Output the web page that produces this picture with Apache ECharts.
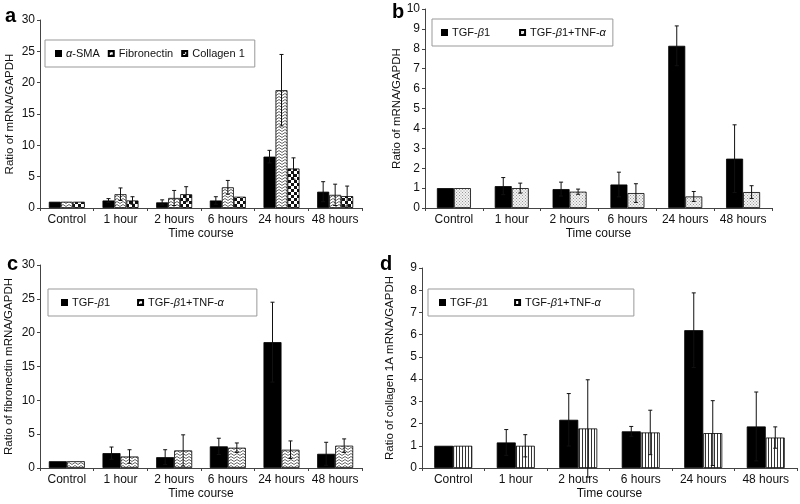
<!DOCTYPE html>
<html>
<head>
<meta charset="utf-8">
<script src="https://cdn.jsdelivr.net/npm/echarts@6/dist/echarts.min.js"></script>
<style>
  html, body { margin: 0; padding: 0; background: #fff; }
  #chart { width: 800px; height: 504px; }
</style>
</head>
<body>
<div id="chart"></div>
<script>
// categories shared by all four panels
var categories = ['Control', '1 hour', '2 hours', '6 hours', '24 hours', '48 hours'];

// panel a
var aSMA = [1.0, 1.2, 0.9, 1.2, 8.2, 2.6];
var aSMAErr = [0, 0.3, 0.4, 0.6, 1.0, 1.6];
var aFibro = [1.0, 2.2, 1.6, 3.3, 18.8, 2.1];
var aFibroErr = [0, 1.0, 1.2, 1.1, 5.7, 1.7];
var aColl = [1.0, 1.2, 2.2, 1.8, 6.3, 1.9];
var aCollErr = [0, 0.6, 1.2, 0, 1.7, 1.6];

// panel b
var bTgf = [1.0, 1.1, 0.95, 1.18, 8.15, 2.48];
var bTgfErr = [0, 0.43, 0.35, 0.62, 1.0, 1.7];
var bTnf = [1.0, 1.0, 0.82, 0.75, 0.58, 0.8];
var bTnfErr = [0, 0.25, 0.13, 0.47, 0.25, 0.32];

// panel c
var cTgf = [1.0, 2.2, 1.6, 3.2, 18.6, 2.1];
var cTgfErr = [0, 0.9, 1.1, 1.2, 5.9, 1.7];
var cTnf = [1.0, 1.7, 2.6, 3.0, 2.7, 3.3];
var cTnfErr = [0, 1.0, 2.3, 0.7, 1.3, 1.0];

// panel d
var dTgf = [1.0, 1.15, 2.17, 1.65, 6.2, 1.87];
var dTgfErr = [0, 0.58, 1.18, 0.22, 1.68, 1.55];
var dTnf = [1.0, 1.0, 1.78, 1.6, 1.57, 1.37];
var dTnfErr = [0, 0.5, 2.19, 1.0, 1.46, 0.48];

var FONT = 'Liberation Sans';

function makePattern(kind) {
  var c = document.createElement('canvas');
  var ctx;
  if (kind === 'zigzag') {
    c.width = 6; c.height = 3;
    ctx = c.getContext('2d');
    ctx.fillStyle = '#fff'; ctx.fillRect(0, 0, 6, 3);
    ctx.strokeStyle = '#666'; ctx.lineWidth = 1;
    ctx.beginPath(); ctx.moveTo(0, 2.5); ctx.lineTo(3, 0.5); ctx.lineTo(6, 2.5); ctx.stroke();
  } else if (kind === 'checker') {
    c.width = 6; c.height = 6;
    ctx = c.getContext('2d');
    ctx.fillStyle = '#fff'; ctx.fillRect(0, 0, 6, 6);
    ctx.fillStyle = '#111';
    ctx.fillRect(0, 0, 3, 3); ctx.fillRect(3, 3, 3, 3);
  } else if (kind === 'dots') {
    c.width = 3; c.height = 3;
    ctx = c.getContext('2d');
    ctx.fillStyle = '#f2f2f2'; ctx.fillRect(0, 0, 3, 3);
    ctx.fillStyle = '#999';
    ctx.fillRect(0, 0, 1, 1); ctx.fillRect(1.5, 1.5, 1, 1);
  } else {
    c.width = 3; c.height = 2;
    ctx = c.getContext('2d');
    ctx.fillStyle = '#fff'; ctx.fillRect(0, 0, 3, 2);
    ctx.fillStyle = '#333'; ctx.fillRect(0, 0, 1, 2);
  }
  return { image: c, repeat: 'repeat' };
}

var BLACK = '#000';

function bar(name, values, fill, gi, bw) {
  return {
    name: name, type: 'bar', xAxisIndex: gi, yAxisIndex: gi,
    data: values, barWidth: bw, barGap: '0%',
    itemStyle: { color: fill, borderColor: '#000', borderWidth: 0.8 },
    emphasis: { disabled: true }
  };
}

function errBars(values, errs, gi, bw, idx, n) {
  var off = (idx - (n - 1) / 2) * bw;
  return {
    type: 'custom', xAxisIndex: gi, yAxisIndex: gi, z: 5, silent: true,
    data: values.map(function (v, i) { return [i, v, errs[i]]; }),
    encode: { x: 0, y: 1 },
    renderItem: function (params, api) {
      var e = api.value(2);
      if (!e) return null;
      var x = api.coord([api.value(0), api.value(1)])[0] + off;
      var yt = api.coord([api.value(0), api.value(1) + e])[1];
      var yb = api.coord([api.value(0), api.value(1) - e])[1];
      var st = { stroke: '#111', lineWidth: 1 };
      return {
        type: 'group',
        children: [
          { type: 'line', shape: { x1: x, y1: yt, x2: x, y2: yb }, style: st },
          { type: 'line', shape: { x1: x - 2, y1: yt, x2: x + 2, y2: yt }, style: st },
          { type: 'line', shape: { x1: x - 2, y1: yb, x2: x + 2, y2: yb }, style: st }
        ]
      };
    }
  };
}

function xAx(gi) {
  return {
    type: 'category', gridIndex: gi, data: categories,
    name: 'Time course', nameLocation: 'middle', nameGap: 20,
    nameTextStyle: { fontFamily: FONT, fontSize: 12, color: '#111' },
    axisLine: { lineStyle: { color: '#444' } },
    axisTick: { show: true, length: 3, lineStyle: { color: '#444' } },
    axisLabel: { fontFamily: FONT, fontSize: 12, color: '#111', margin: 6, interval: 0 }
  };
}

function yAx(gi, max, interval, name, gap) {
  return {
    type: 'value', gridIndex: gi, min: 0, max: max, interval: interval,
    name: name, nameLocation: 'middle', nameGap: gap,
    nameTextStyle: { fontFamily: FONT, fontSize: 11.5, color: '#111' },
    axisLine: { show: true, lineStyle: { color: '#444' } },
    axisTick: { show: true, length: 3, lineStyle: { color: '#444' } },
    axisLabel: { fontFamily: FONT, fontSize: 12, color: '#111', margin: 5 },
    splitLine: { show: false }
  };
}

// greek letters in italics, trailing spaces (used to keep series names unique) dropped
function legendText(name) {
  return name.trim().replace(/([αβ])/g, '{i|$1}');
}

function legend(names, left, top, padding, gap) {
  return {
    data: names, left: left, top: top, padding: padding, itemGap: gap,
    orient: 'horizontal', selectedMode: false,
    borderColor: '#999', borderWidth: 1, borderRadius: 0,
    itemWidth: 5, itemHeight: 5, icon: 'rect',
    formatter: legendText,
    textStyle: {
      fontFamily: FONT, fontSize: 11, color: '#111',
      rich: { i: { fontFamily: FONT, fontSize: 11, fontStyle: 'italic', color: '#111' } }
    }
  };
}

var zig = makePattern('zigzag');
var chk = makePattern('checker');
var dot = makePattern('dots');
var vst = makePattern('vstripes');

var option = {
  animation: false,
  backgroundColor: '#fff',
  grid: [
    { left: 40, top: 20, width: 322, height: 188 },
    { left: 425, top: 9, width: 347, height: 199 },
    { left: 40, top: 265, width: 322, height: 203 },
    { left: 422, top: 268, width: 375, height: 200 }
  ],
  xAxis: [xAx(0), xAx(1), xAx(2), xAx(3)],
  yAxis: [
    yAx(0, 30, 5, 'Ratio of mRNA/GAPDH', 24),
    yAx(1, 10, 1, 'Ratio of mRNA/GAPDH', 12),
    yAx(2, 30, 5, 'Ratio of fibronectin mRNA/GAPDH', 25),
    yAx(3, 9, 1, 'Ratio of collagen 1A mRNA/GAPDH', 26)
  ],
  legend: [
    legend(['α-SMA', 'Fibronectin', 'Collagen 1'], 45, 40, [8, 10, 8, 10], 8),
    legend(['TGF-β1', 'TGF-β1+TNF-α'], 432, 19, [8, 7, 8, 9], 29),
    legend(['TGF-β1 ', 'TGF-β1+TNF-α '], 48, 289, [8, 33, 8, 13], 27),
    legend(['TGF-β1  ', 'TGF-β1+TNF-α  '], 428, 289, [8, 33, 8, 11], 26)
  ],
  graphic: [
    { type: 'text', left: 5, top: 6, style: { text: 'a', font: 'bold 20px ' + FONT, fill: '#000' } },
    { type: 'text', left: 392, top: 2, style: { text: 'b', font: 'bold 20px ' + FONT, fill: '#000' } },
    { type: 'text', left: 7, top: 254, style: { text: 'c', font: 'bold 20px ' + FONT, fill: '#000' } },
    { type: 'text', left: 380, top: 254, style: { text: 'd', font: 'bold 20px ' + FONT, fill: '#000' } }
  ],
  series: [
    bar('α-SMA', aSMA, BLACK, 0, 12),
    bar('Fibronectin', aFibro, zig, 0, 12),
    bar('Collagen 1', aColl, chk, 0, 12),
    errBars(aSMA, aSMAErr, 0, 12, 0, 3),
    errBars(aFibro, aFibroErr, 0, 12, 1, 3),
    errBars(aColl, aCollErr, 0, 12, 2, 3),

    bar('TGF-β1', bTgf, BLACK, 1, 17),
    bar('TGF-β1+TNF-α', bTnf, dot, 1, 17),
    errBars(bTgf, bTgfErr, 1, 17, 0, 2),
    errBars(bTnf, bTnfErr, 1, 17, 1, 2),

    bar('TGF-β1 ', cTgf, BLACK, 2, 18),
    bar('TGF-β1+TNF-α ', cTnf, zig, 2, 18),
    errBars(cTgf, cTgfErr, 2, 18, 0, 2),
    errBars(cTnf, cTnfErr, 2, 18, 1, 2),

    bar('TGF-β1  ', dTgf, BLACK, 3, 19),
    bar('TGF-β1+TNF-α  ', dTnf, vst, 3, 19),
    errBars(dTgf, dTgfErr, 3, 19, 0, 2),
    errBars(dTnf, dTnfErr, 3, 19, 1, 2)
  ]
};

var chart = echarts.init(document.getElementById('chart'), null, { renderer: 'canvas' });
chart.setOption(option);
</script>
</body>
</html>
